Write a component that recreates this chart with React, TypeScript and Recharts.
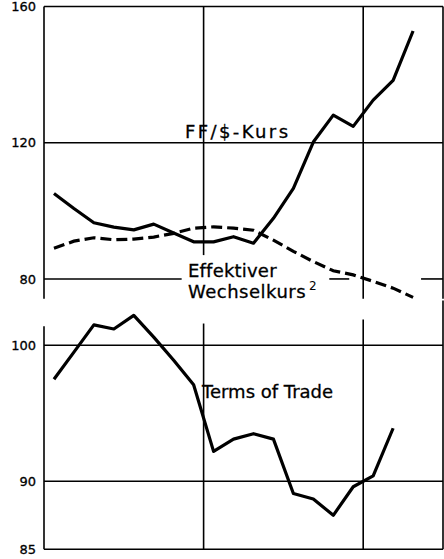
import { Line, LineChart, ReferenceLine, XAxis, YAxis } from 'recharts';

// period index (quarters), 20 slots, last one empty
const periods = ['1', '2', '3', '4', '5', '6', '7', '8', '9', '10', '11', '12', '13', '14', '15', '16', '17', '18', '19', '20'];

const ffDollar = [105.1, 100.7, 96.5, 95.2, 94.4, 96.1, 93.5, 90.9, 90.9, 92.4, 90.5, 97.8, 106.6, 120.2, 128.1, 124.8, 132.5, 138.3, 152.8];
const effectiveRate = [89.0, 91.1, 92.1, 91.5, 91.7, 92.3, 93.4, 94.9, 95.3, 94.9, 94.3, 91.4, 88.1, 85.1, 82.4, 81.2, 79.3, 77.3, 74.6];
const termsOfTrade = [97.5, 99.5, 101.5, 101.2, 102.2, 100.6, 98.9, 97.1, 92.2, 93.1, 93.5, 93.1, 89.1, 88.7, 87.5, 89.6, 90.4, 93.9];

const topTicks = [80, 120, 160];
const bottomTicks = [85, 90, 100];

const FONT = '"DejaVu Sans", sans-serif';
const INK = '#000';

const data = periods.map((p, i) => ({
  period: p,
  x: i + 0.5,
  ff: ffDollar[i] ?? null,
  eff: effectiveRate[i] ?? null,
  tot: termsOfTrade[i] ?? null,
}));

const tickStyle = { fontSize: 13, fill: INK, fontFamily: FONT, stroke: INK, strokeWidth: 0.3 };
const labelProps = { fontSize: 18, fontFamily: FONT, fill: INK, stroke: INK, strokeWidth: 0.3 };

// helper for a gridline piece
function seg(x1: number, y1: number, x2: number, y2: number, key: string, w = 1.6) {
  return (
    <ReferenceLine
      key={key}
      segment={[{ x: x1, y: y1 }, { x: x2, y: y2 }]}
      stroke={INK}
      strokeWidth={w}
      ifOverflow="visible"
    />
  );
}

export default function App() {
  return (
    <div style={{ position: 'absolute', left: 0, top: 0, width: 444, height: 559, background: '#fff' }}>
      {/* upper panel: exchange rates */}
      <div style={{ position: 'absolute', left: 0, top: 0 }}>
        <LineChart width={444} height={310} data={data} margin={{ top: 6.5, right: 1, bottom: 11.3, left: 0 }}>
          <XAxis type="number" dataKey="x" domain={[0, 20]} hide />
          <YAxis
            type="number"
            domain={[74.2, 160]}
            ticks={topTicks}
            width={44}
            tickLine={false}
            axisLine={{ stroke: INK, strokeWidth: 1.6 }}
            tick={tickStyle}
            interval={0}
          />
          {seg(0, 160, 20, 160, 'top')}
          {seg(0, 120, 20, 120, 'h120')}
          {seg(0, 80, 6.9, 80, 'h80a')}
          {seg(14.3, 80, 15.3, 80, 'h80b')}
          {seg(18.9, 80, 20, 80, 'h80c')}
          {seg(8, 87, 8, 160, 'v8')}
          {seg(16, 74.2, 16, 160, 'v16')}
          {seg(20, 74.2, 20, 160, 'right')}
          <Line
            dataKey="eff"
            stroke={INK}
            strokeWidth={3.2}
            strokeDasharray="11 5"
            dot={false}
            isAnimationActive={false}
          />
          <Line dataKey="ff" stroke={INK} strokeWidth={3.2} strokeLinejoin="round" dot={false} isAnimationActive={false} />
          <text x={185} y={138} letterSpacing={2.4} {...labelProps}>
            FF/$-Kurs
          </text>
          <text x={188} y={277} letterSpacing={0.2} {...labelProps}>
            Effektiver
          </text>
          <text x={188} y={298} letterSpacing={0.5} {...labelProps}>
            Wechselkurs
          </text>
          <text x={309} y={290} fontSize={12} fontFamily={FONT} fill={INK}>
            2
          </text>
        </LineChart>
      </div>

      {/* lower panel: terms of trade */}
      <div style={{ position: 'absolute', left: 0, top: 300 }}>
        <LineChart width={444} height={259} data={data} margin={{ top: 0.4, right: 1, bottom: 9.7, left: 0 }}>
          <XAxis type="number" dataKey="x" domain={[0, 20]} hide />
          <YAxis
            type="number"
            domain={[85, 103.3]}
            ticks={bottomTicks}
            width={44}
            tickLine={false}
            axisLine={false}
            tick={tickStyle}
            interval={0}
          />
          {seg(0, 85, 0, 101.4, 'left')}
          {seg(0, 85, 20, 85, 'bottom')}
          {seg(0, 90, 20, 90, 'h90')}
          {seg(0, 100, 20, 100, 'h100')}
          {seg(8, 85, 8, 101.6, 'v8')}
          {seg(16, 85, 16, 101.9, 'v16')}
          {seg(20, 85, 20, 103.3, 'right')}
          <Line dataKey="tot" stroke={INK} strokeWidth={3.2} strokeLinejoin="round" dot={false} isAnimationActive={false} />
          <text x={202} y={98} {...labelProps}>
            Terms of Trade
          </text>
        </LineChart>
      </div>
    </div>
  );
}
